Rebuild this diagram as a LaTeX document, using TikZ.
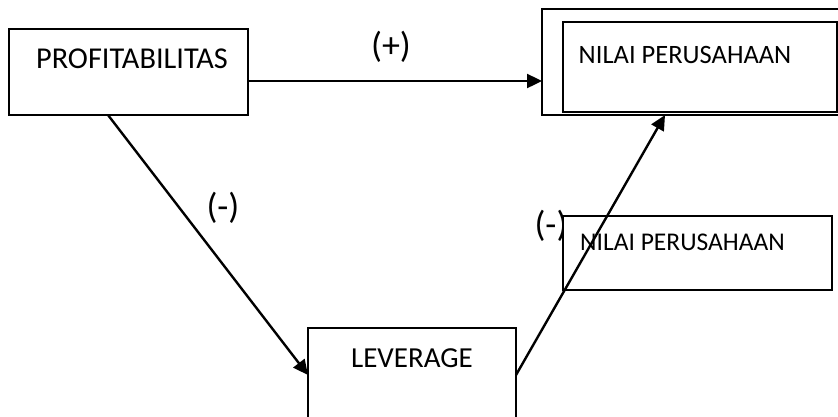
\documentclass[tikz,border=0pt]{standalone}
\usepackage{fontspec}
\setmainfont{Carlito}
\usetikzlibrary{arrows.meta}
\begin{document}
\begin{tikzpicture}[x=1pt,y=-1pt,
  box/.style={draw, line width=2.3pt, fill=white, rectangle, inner sep=0pt, outer sep=0pt},
  lbl/.style={anchor=base, inner sep=0pt},
  sign/.style={font=\fontsize{36}{40}\selectfont, inner sep=0pt},
  conn/.style={line width=2.4pt, -{Triangle[length=15pt,width=14pt]}}]
\useasboundingbox (0,0) rectangle (838,416);
\clip (0,0) rectangle (838,416);
\fill[white] (0,0) rectangle (838,416);
% label partly hidden by the middle box
\node[sign] (minus2) at (551,226) {(-)};
% boxes
\node[box, minimum width=239pt, minimum height=86pt] (profit) at (128.5,72) {};
\node[box, minimum width=318pt, minimum height=106pt] (outer) at (701,62) {};
\node[box, minimum width=274pt, minimum height=90pt] (inner) at (700,67) {};
\node[box, minimum width=269pt, minimum height=74pt] (mid) at (697.5,253) {};
\node[box, minimum width=208pt, minimum height=94pt] (lev) at (412,375) {};
% texts
\node[lbl, font=\fontsize{30.3}{32}\selectfont] (tprofit) at (132,68) {PROFITABILITAS};
\node[lbl, font=\fontsize{26.5}{30}\selectfont] (tnilai) at (685,63) {NILAI PERUSAHAAN};
\node[lbl, font=\fontsize{25.5}{30}\selectfont] (tmid) at (682.5,250) {NILAI PERUSAHAAN};
\node[lbl, font=\fontsize{29}{32}\selectfont] (tlev) at (412,367) {LEVERAGE};
\node[sign] (plus) at (391,47) {(+)};
\node[sign] (minus1) at (223,208) {(-)};
% connectors
\coordinate (a1) at ([yshift=-9pt]profit.east);
\draw[conn] (a1) -- (a1 -| outer.west);
\draw[conn] ([xshift=-20.5pt]profit.south) -- (lev.west);
\draw[conn] (lev.east) -- ([xshift=-36pt]outer.south);
\end{tikzpicture}
\end{document}
